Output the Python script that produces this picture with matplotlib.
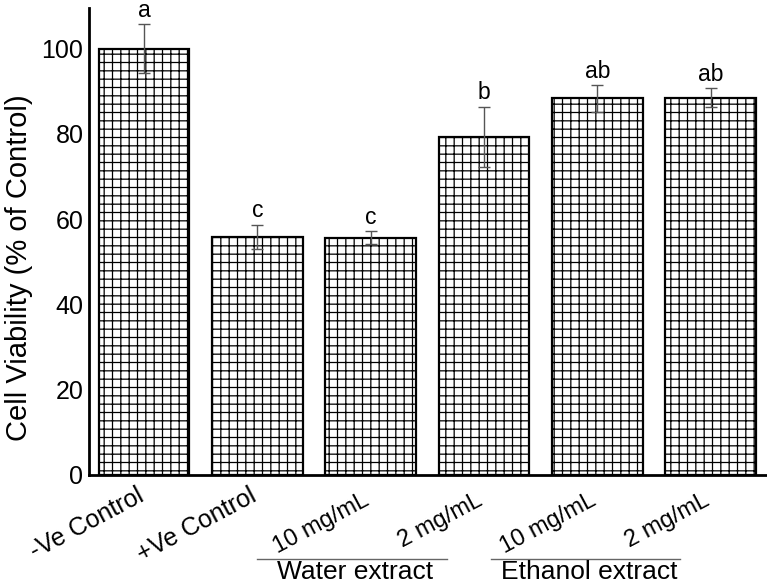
import matplotlib
matplotlib.use("Agg")
import matplotlib.pyplot as plt
import matplotlib.transforms as mtransforms

plt.rcParams['font.family'] = ['Liberation Sans', 'DejaVu Sans']
plt.rcParams['hatch.linewidth'] = 0.9
plt.rcParams['hatch.color'] = 'black'

# ---- data ----
categories = ["-Ve Control", "+Ve Control", "10 mg/mL", "2 mg/mL", "10 mg/mL", "2 mg/mL"]
viability = [100.0, 55.8, 55.6, 79.3, 88.3, 88.5]
errors = [5.7, 2.8, 1.5, 7.0, 3.1, 2.2]
letters = ["a", "c", "c", "b", "ab", "ab"]
groups = ["Water extract", "Ethanol extract"]
y_ticks = [0, 20, 40, 60, 80, 100]

fig = plt.figure(figsize=(7.67, 5.85), dpi=100)
ax = fig.add_axes([89/767, 110/585, 1 - 89/767 - 0.001, 467/585])

x = list(range(len(categories)))
ax.bar(x, viability, width=0.8, color='white', edgecolor='black',
       linewidth=1.6, hatch='++', zorder=2)
ax.errorbar(x, viability, yerr=errors, fmt='none', ecolor='#555555',
            elinewidth=1.0, capsize=4.5, capthick=1.0, zorder=3)

for xi, v, e, lab in zip(x, viability, errors, letters):
    ax.annotate(lab, (xi, v + e), xytext=(0, 5.5), textcoords='offset points',
                ha='center', va='baseline', fontsize=16.5, annotation_clip=False)

ax.set_xlim(-0.485, 5.49)
ax.set_ylim(0, 109.5)
ax.set_yticks(y_ticks)
ax.set_yticklabels([str(t) for t in y_ticks], fontsize=18)
ax.tick_params(axis='y', length=0, pad=4)
ax.set_xticks([])
for s in ['top', 'right']:
    ax.spines[s].set_visible(False)
for s in ['left', 'bottom']:
    ax.spines[s].set_linewidth(2.0)
    ax.spines[s].set_color('black')

ax.set_ylabel("Cell Viability (% of Control)", fontsize=21)
ax.yaxis.set_label_coords(-0.082, 0.443)

trans = mtransforms.blended_transform_factory(ax.transData, ax.transAxes)
label_y = [-0.019, -0.019, -0.03, -0.03, -0.03, -0.03]
label_size = [18, 18, 17, 17, 17, 17]
for xi, lab, ly, fs in zip(x, categories, label_y, label_size):
    ax.text(xi - 0.07, ly, lab, transform=trans, rotation=28,
            rotation_mode='anchor', ha='right', va='top', fontsize=fs)

# group lines and labels
line_y = -0.18
text_y = -0.207
group_spans = [(1.0, 2.67), (3.06, 4.73)]
for (x0, x1), g in zip(group_spans, groups):
    ax.plot([x0, x1], [line_y, line_y], transform=trans, color='#666666',
            lw=1.0, clip_on=False)
    ax.text((x0 + x1) / 2 + 0.03, text_y, g, transform=trans, ha='center',
            va='center', fontsize=19)

fig.savefig("out.png", dpi=100)
